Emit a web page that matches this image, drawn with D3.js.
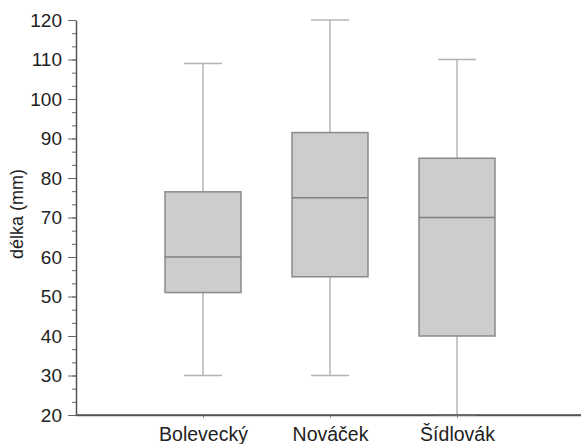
<!DOCTYPE html>
<html>
<head>
<meta charset="utf-8">
<script src="https://cdn.jsdelivr.net/npm/d3@7"></script>
<style>
  body { margin: 0; background: #fff; }
  svg text { font-family: "Liberation Sans", Arial, sans-serif; fill: #222; }
</style>
</head>
<body>
<svg id="chart" width="581" height="444"></svg>
<script>
// box plot data
const categories = ["Bolevecký", "Nováček", "Šídlovák"];
const minValues = [30, 30, 20];
const q1Values = [51, 55, 40];
const medianValues = [60, 75, 70];
const q3Values = [76.5, 91.5, 85];
const maxValues = [109, 120, 110];
const yTicks = [20, 30, 40, 50, 60, 70, 80, 90, 100, 110, 120];

const data = categories.map((c, i) => ({
  name: c, min: minValues[i], q1: q1Values[i], median: medianValues[i],
  q3: q3Values[i], max: maxValues[i]
}));

const svg = d3.select("#chart");
const mLeft = 76, mBottom = 415, mTop = 20, mRight = 584;

const x = d3.scaleLinear().domain([0, 4]).range([mLeft, mRight]);
const y = d3.scaleLinear().domain([20, 120]).range([mBottom, mTop]);

const boxW = 76, capW = 38;

// minor ticks on y axis
const minor = d3.range(20, 120.01, 10 / 3);
svg.append("g")
  .attr("transform", "translate(" + mLeft + ",0)")
  .call(d3.axisLeft(y).tickValues(minor).tickSize(4).tickFormat(""))
  .call(g => g.select(".domain").remove())
  .selectAll("line").attr("stroke", "#666");

// y axis
const yAxis = svg.append("g")
  .attr("transform", "translate(" + mLeft + ",0)")
  .call(d3.axisLeft(y).tickValues(yTicks).tickSize(8).tickPadding(6).tickSizeOuter(0));
yAxis.select(".domain").attr("stroke", "#555").attr("stroke-width", 1.5);
yAxis.selectAll(".tick line").attr("stroke", "#666");
yAxis.selectAll("text")
  .style("font-size", "19px")
  .attr("fill", "#222");

// x axis
const xAxis = svg.append("g")
  .attr("transform", "translate(0," + mBottom + ")")
  .call(d3.axisBottom(x).tickValues([1, 2, 3]).tickSize(3).tickPadding(9)
    .tickSizeOuter(0).tickFormat(d => categories[d - 1]));
xAxis.select(".domain").attr("stroke", "#555").attr("stroke-width", 1.5);
xAxis.selectAll(".tick line").attr("stroke", "#888");
xAxis.selectAll("text")
  .style("font-size", "19.5px")
  .attr("fill", "#222");

// y axis title
svg.append("text")
  .attr("transform", "translate(23,214) rotate(-90)")
  .attr("text-anchor", "middle")
  .style("font-size", "18px")
  .text("délka (mm)");

// boxes
const g = svg.append("g");
const box = g.selectAll("g.box").data(data).enter().append("g").attr("class", "box");

box.append("line")
  .attr("x1", (d, i) => x(i + 1)).attr("x2", (d, i) => x(i + 1))
  .attr("y1", d => y(d.max)).attr("y2", d => y(d.min))
  .attr("stroke", "#b4b4b4").attr("stroke-width", 1.5);

box.append("line")
  .attr("x1", (d, i) => x(i + 1) - capW / 2).attr("x2", (d, i) => x(i + 1) + capW / 2)
  .attr("y1", d => y(d.max)).attr("y2", d => y(d.max))
  .attr("stroke", "#b4b4b4").attr("stroke-width", 1.5);

box.append("line")
  .attr("x1", (d, i) => x(i + 1) - capW / 2).attr("x2", (d, i) => x(i + 1) + capW / 2)
  .attr("y1", d => y(d.min)).attr("y2", d => y(d.min))
  .attr("stroke", "#b4b4b4").attr("stroke-width", 1.5);

box.append("rect")
  .attr("x", (d, i) => x(i + 1) - boxW / 2)
  .attr("width", boxW)
  .attr("y", d => y(d.q3))
  .attr("height", d => y(d.q1) - y(d.q3))
  .attr("fill", "#cdcdcd")
  .attr("stroke", "#8a8a8a").attr("stroke-width", 1.5);

box.append("line")
  .attr("x1", (d, i) => x(i + 1) - boxW / 2).attr("x2", (d, i) => x(i + 1) + boxW / 2)
  .attr("y1", d => y(d.median)).attr("y2", d => y(d.median))
  .attr("stroke", "#808080").attr("stroke-width", 1.5);

// redraw bottom axis line above the whisker that touches it
svg.append("line")
  .attr("x1", mLeft).attr("x2", 581)
  .attr("y1", mBottom).attr("y2", mBottom)
  .attr("stroke", "#555").attr("stroke-width", 1.5);
</script>
</body>
</html>
